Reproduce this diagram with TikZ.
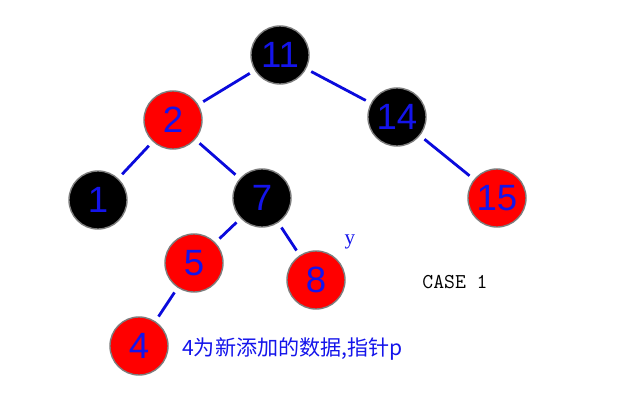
\documentclass[tikz,border=0pt]{standalone}
\usepackage{fontspec}
\setmainfont{Liberation Serif}
\newfontfamily\cjk{Noto Sans CJK SC}
\newfontfamily\digitfont{Liberation Sans}

\definecolor{numblue}{RGB}{20,20,235}
\definecolor{linkblue}{RGB}{10,10,220}
\definecolor{rimgray}{RGB}{125,125,125}

\tikzset{
    rbnode/.style={circle, draw=rimgray, line width=1pt, minimum size=1.45cm,
        inner sep=0pt, text=numblue, font=\digitfont\fontsize{26}{26}\selectfont},
    rednode/.style={rbnode, fill=red},
    blacknode/.style={rbnode, fill=black},
    link/.style={draw=linkblue, line width=2pt, shorten <=4pt, shorten >=4pt}
}

\begin{document}
\begin{tikzpicture}[x=0.025cm,y=-0.025cm]
    % picture frame, one unit is one pixel of the drawing
    \useasboundingbox (0,0) rectangle (640,400);

    % the tree
    \node[blacknode] (n11) at (280,55) {11};
    \node[rednode] (n2) at (173,120) {2};
    \node[blacknode] (n14) at (397,117) {14};
    \node[blacknode] (n1) at (98,200) {1};
    \node[blacknode] (n7) at (262,198) {7};
    \node[rednode] (n15) at (497,198) {15};
    \node[rednode] (n5) at (194,263) {5};
    \node[rednode] (n8) at (316,280) {8};
    \node[rednode] (n4) at (139,346) {4};

    \draw[link] (n11) -- (n2);
    \draw[link] (n11) -- (n14);
    \draw[link] (n2) -- (n1);
    \draw[link] (n2) -- (n7);
    \draw[link] (n14) -- (n15);
    \draw[link] (n7) -- (n5);
    \draw[link] (n7) -- (n8);
    \draw[link] (n5) -- (n4);

    % labels
    \node[text=numblue, font=\fontsize{15}{15}\selectfont] (ylab) at (350,242) {y};
    \node[font=\ttfamily\fontsize{15}{15}\selectfont] (case) at (455,282) {CASE 1};
    \node[anchor=west, inner sep=0pt, text=numblue, font=\cjk\fontsize{15}{15}\selectfont]
        (note) at (182,349) {4为新添加的数据,指针p};
\end{tikzpicture}
\end{document}
